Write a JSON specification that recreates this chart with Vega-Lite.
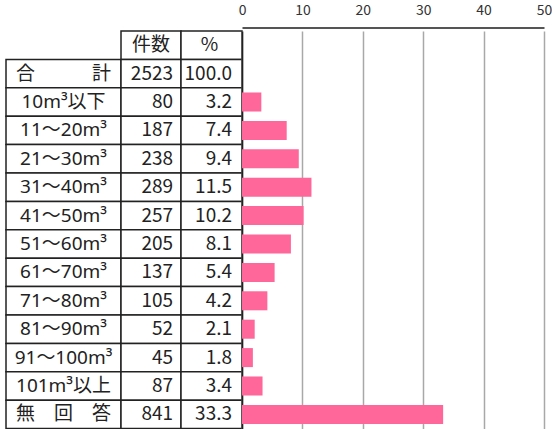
{
  "$schema": "https://vega.github.io/schema/vega-lite/v6.json",
  "padding": {"left": 5, "top": 3, "right": 0, "bottom": 0},
  "autosize": {"type": "pad"},
  "bounds": "flush",
  "spacing": 0,
  "config": {
    "view": {"stroke": null},
    "font": "Noto Sans CJK JP",
    "text": {"font": "Noto Sans CJK JP", "fontSize": 19, "color": "#222"}
  },
  "datasets": {
    "rows": [
      {"key": "見出し", "count": null, "pct": null},
      {"key": "合　　　計", "count": 2523, "pct": 100.0},
      {"key": "10m³以下", "count": 80, "pct": 3.2},
      {"key": "11～20m³", "count": 187, "pct": 7.4},
      {"key": "21～30m³", "count": 238, "pct": 9.4},
      {"key": "31～40m³", "count": 289, "pct": 11.5},
      {"key": "41～50m³", "count": 257, "pct": 10.2},
      {"key": "51～60m³", "count": 205, "pct": 8.1},
      {"key": "61～70m³", "count": 137, "pct": 5.4},
      {"key": "71～80m³", "count": 105, "pct": 4.2},
      {"key": "81～90m³", "count": 52, "pct": 2.1},
      {"key": "91～100m³", "count": 45, "pct": 1.8},
      {"key": "101m³以上", "count": 87, "pct": 3.4},
      {"key": "無　回　答", "count": 841, "pct": 33.3}
    ]
  },
  "hconcat": [
    {
      "width": 115,
      "height": 397.6,
      "data": {"name": "rows"},
      "transform": [{"filter": "datum.key !== '見出し'"}],
      "encoding": {
        "y": {
          "field": "key", "type": "nominal",
          "scale": {"domain": ["見出し","合　　　計","10m³以下","11～20m³","21～30m³","31～40m³","41～50m³","51～60m³","61～70m³","71～80m³","81～90m³","91～100m³","101m³以上","無　回　答"], "paddingInner": 0, "paddingOuter": 0},
          "axis": null
        }
      },
      "layer": [
        {"mark": {"type": "rect", "fill": "white", "stroke": "#222", "strokeWidth": 1.5}},
        {"mark": {"type": "text", "baseline": "middle", "font": "Noto Sans, Noto Sans CJK JP"}, "encoding": {"text": {"field": "key", "type": "nominal"}}}
      ]
    },
    {
      "width": 60,
      "height": 397.6,
      "data": {"name": "rows"},
      "encoding": {
        "y": {
          "field": "key", "type": "nominal",
          "scale": {"domain": ["見出し","合　　　計","10m³以下","11～20m³","21～30m³","31～40m³","41～50m³","51～60m³","61～70m³","71～80m³","81～90m³","91～100m³","101m³以上","無　回　答"], "paddingInner": 0, "paddingOuter": 0},
          "axis": null
        }
      },
      "layer": [
        {"mark": {"type": "rect", "fill": "white", "stroke": "#222", "strokeWidth": 1.5}},
        {
          "transform": [{"filter": "datum.key !== '見出し'"}],
          "mark": {"type": "text", "baseline": "middle", "align": "right", "dx": -8},
          "encoding": {"x": {"value": "width"}, "text": {"field": "count", "type": "quantitative", "format": "d"}}
        },
        {
          "transform": [{"filter": "datum.key === '見出し'"}],
          "mark": {"type": "text", "baseline": "middle"},
          "encoding": {"text": {"value": "件数"}}
        }
      ]
    },
    {
      "width": 61,
      "height": 397.6,
      "data": {"name": "rows"},
      "encoding": {
        "y": {
          "field": "key", "type": "nominal",
          "scale": {"domain": ["見出し","合　　　計","10m³以下","11～20m³","21～30m³","31～40m³","41～50m³","51～60m³","61～70m³","71～80m³","81～90m³","91～100m³","101m³以上","無　回　答"], "paddingInner": 0, "paddingOuter": 0},
          "axis": null
        }
      },
      "layer": [
        {"mark": {"type": "rect", "fill": "white", "stroke": "#222", "strokeWidth": 1.5}},
        {
          "transform": [{"filter": "datum.key !== '見出し'"}],
          "mark": {"type": "text", "baseline": "middle", "align": "right", "dx": -10},
          "encoding": {"x": {"value": "width"}, "text": {"field": "pct", "type": "quantitative", "format": ".1f"}}
        },
        {
          "transform": [{"filter": "datum.key === '見出し'"}],
          "mark": {"type": "text", "baseline": "middle", "dx": -2},
          "encoding": {"text": {"value": "%"}}
        }
      ]
    },
    {
      "width": 302,
      "height": 397.6,
      "data": {"name": "rows"},
      "transform": [{"filter": "datum.key !== '見出し' && datum.key !== '合　　　計'"}],
      "mark": {"type": "bar", "color": "#ff6699"},
      "encoding": {
        "y": {
          "field": "key", "type": "nominal",
          "scale": {"domain": ["見出し","合　　　計","10m³以下","11～20m³","21～30m³","31～40m³","41～50m³","51～60m³","61～70m³","71～80m³","81～90m³","91～100m³","101m³以上","無　回　答"], "paddingInner": 0.33, "paddingOuter": 0.165},
          "axis": {"domain": true, "domainColor": "#222", "domainWidth": 1.5, "labels": false, "ticks": false, "grid": false, "title": null}
        },
        "x": {
          "field": "pct", "type": "quantitative",
          "scale": {"domain": [0, 50], "nice": false},
          "axis": {"orient": "top", "values": [0, 10, 20, 30, 40, 50], "grid": true, "gridColor": "#a8a8a8", "gridWidth": 1.5, "domainColor": "#555", "domainWidth": 2, "ticks": false, "labelPadding": 10, "labelFontSize": 14, "labelColor": "#333", "labelFlush": false, "labelFont": "Noto Sans CJK JP", "title": null, "offset": 3.6}
        }
      }
    }
  ]
}
